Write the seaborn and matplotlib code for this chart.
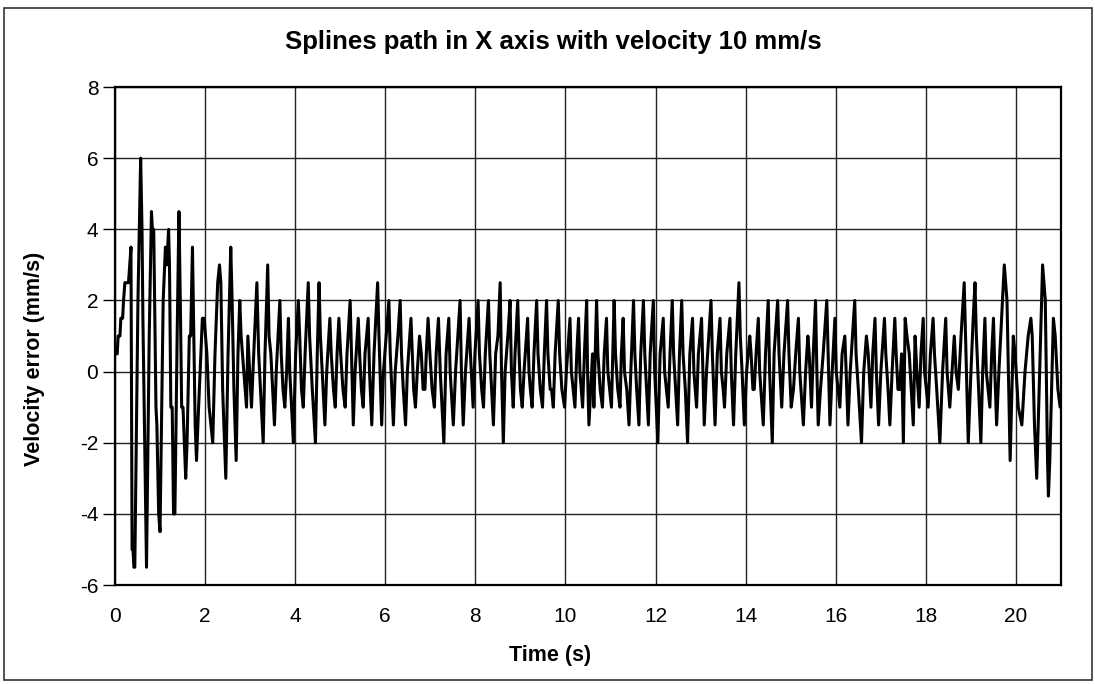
import numpy as np
import pandas as pd
import matplotlib
matplotlib.use("Agg")
import matplotlib.pyplot as plt
from matplotlib.patches import Rectangle
import seaborn as sns

title = "Splines path in X axis with velocity 10 mm/s"
x_label = "Time (s)"
y_label = "Velocity error (mm/s)"
x_ticks = [0, 2, 4, 6, 8, 10, 12, 14, 16, 18, 20]
y_ticks = [-6, -4, -2, 0, 2, 4, 6, 8]

time_s = [
    0.00, 0.05, 0.07, 0.11, 0.13, 0.17, 0.19, 0.22, 0.30, 0.355,
    0.38, 0.40, 0.42, 0.44, 0.51, 0.57, 0.60, 0.62, 0.70, 0.76,
    0.81, 0.83, 0.86, 0.91, 0.93, 0.97, 1.00, 1.07, 1.12, 1.15,
    1.19, 1.21, 1.24, 1.27, 1.30, 1.33, 1.38, 1.42, 1.45, 1.48,
    1.51, 1.57, 1.60, 1.65, 1.68, 1.72, 1.75, 1.78, 1.81, 1.84,
    1.89, 1.94, 1.98, 2.01, 2.04, 2.09, 2.13, 2.17, 2.22, 2.28,
    2.32, 2.35, 2.39, 2.46, 2.51, 2.57, 2.60, 2.64, 2.69, 2.73,
    2.77, 2.80, 2.83, 2.86, 2.92, 2.95, 2.99, 3.03, 3.08, 3.15,
    3.19, 3.23, 3.29, 3.33, 3.39, 3.42, 3.46, 3.54, 3.58, 3.66,
    3.69, 3.73, 3.77, 3.81, 3.85, 3.88, 3.96, 4.01, 4.07, 4.10,
    4.14, 4.18, 4.22, 4.29, 4.32, 4.38, 4.45, 4.49, 4.53, 4.56,
    4.60, 4.66, 4.70, 4.77, 4.80, 4.85, 4.89, 4.93, 4.97, 5.01,
    5.06, 5.11, 5.15, 5.22, 5.25, 5.29, 5.33, 5.40, 5.43, 5.47,
    5.51, 5.55, 5.62, 5.65, 5.70, 5.75, 5.83, 5.86, 5.92, 5.96,
    6.02, 6.08, 6.11, 6.18, 6.22, 6.28, 6.33, 6.36, 6.40, 6.45,
    6.49, 6.57, 6.60, 6.63, 6.67, 6.71, 6.76, 6.80, 6.84, 6.88,
    6.91, 6.95, 6.99, 7.04, 7.09, 7.13, 7.18, 7.22, 7.30, 7.35,
    7.41, 7.44, 7.51, 7.56, 7.61, 7.66, 7.69, 7.73, 7.78, 7.86,
    7.89, 7.95, 7.99, 8.06, 8.09, 8.14, 8.18, 8.22, 8.29, 8.32,
    8.36, 8.40, 8.45, 8.50, 8.55, 8.58, 8.62, 8.66, 8.72, 8.77,
    8.80, 8.84, 8.88, 8.94, 8.97, 9.00, 9.04, 9.08, 9.16, 9.19,
    9.22, 9.26, 9.30, 9.36, 9.39, 9.44, 9.49, 9.53, 9.58, 9.61,
    9.66, 9.69, 9.73, 9.77, 9.84, 9.87, 9.92, 9.98, 10.02, 10.10,
    10.13, 10.17, 10.21, 10.25, 10.29, 10.32, 10.38, 10.42, 10.47, 10.49,
    10.52, 10.56, 10.60, 10.63, 10.66, 10.69, 10.72, 10.77, 10.82, 10.86,
    10.91, 10.94, 10.98, 11.02, 11.05, 11.08, 11.11, 11.16, 11.21, 11.24,
    11.28, 11.31, 11.36, 11.41, 11.45, 11.51, 11.54, 11.58, 11.63, 11.67,
    11.73, 11.76, 11.80, 11.84, 11.88, 11.95, 11.98, 12.05, 12.10, 12.17,
    12.20, 12.24, 12.28, 12.32, 12.37, 12.40, 12.49, 12.53, 12.58, 12.61,
    12.66, 12.71, 12.76, 12.82, 12.85, 12.91, 12.95, 13.02, 13.05, 13.08,
    13.13, 13.18, 13.23, 13.26, 13.32, 13.37, 13.43, 13.46, 13.50, 13.53,
    13.58, 13.65, 13.68, 13.73, 13.78, 13.85, 13.88, 13.92, 13.97, 14.02,
    14.09, 14.12, 14.16, 14.19, 14.23, 14.28, 14.31, 14.39, 14.44, 14.50,
    14.53, 14.59, 14.63, 14.71, 14.74, 14.80, 14.85, 14.93, 14.96, 15.01,
    15.06, 15.11, 15.17, 15.20, 15.28, 15.33, 15.38, 15.41, 15.46, 15.50,
    15.55, 15.58, 15.61, 15.66, 15.72, 15.80, 15.83, 15.87, 15.92, 15.98,
    16.01, 16.05, 16.09, 16.14, 16.20, 16.23, 16.27, 16.32, 16.37, 16.42,
    16.45, 16.50, 16.57, 16.62, 16.68, 16.72, 16.78, 16.82, 16.87, 16.90,
    16.95, 17.00, 17.08, 17.11, 17.16, 17.20, 17.25, 17.31, 17.34, 17.38,
    17.42, 17.46, 17.50, 17.54, 17.58, 17.63, 17.72, 17.76, 17.80, 17.85,
    17.89, 17.94, 17.97, 18.01, 18.05, 18.10, 18.16, 18.19, 18.24, 18.31,
    18.37, 18.44, 18.47, 18.53, 18.58, 18.63, 18.67, 18.72, 18.78, 18.85,
    18.88, 18.94, 19.00, 19.05, 19.09, 19.12, 19.17, 19.22, 19.26, 19.31,
    19.34, 19.42, 19.46, 19.50, 19.53, 19.57, 19.62, 19.68, 19.74, 19.77,
    19.80, 19.87, 19.94, 19.98, 20.05, 20.13, 20.20, 20.27, 20.33, 20.36,
    20.41, 20.46, 20.59, 20.62, 20.65, 20.70, 20.72, 20.75, 20.83, 20.87,
    20.93, 20.98,
]

velocity_error = [
    0.5, 0.5, 1.0, 1.0, 1.5, 1.5, 2.0, 2.5, 2.5, 3.5,
    -5.0, -5.0, -5.5, -5.5, 2.0, 6.0, 4.0, 1.5, -5.5, 1.0,
    4.5, 4.0, 4.0, -1.0, -1.5, -4.0, -4.5, 2.0, 3.5, 3.0,
    4.0, 3.0, -1.0, -1.0, -4.0, -4.0, 1.0, 4.5, 2.0, -1.0,
    -1.0, -3.0, -2.0, 1.0, 1.0, 3.5, 1.0, -1.5, -2.5, -1.5,
    0.0, 1.5, 1.5, 1.0, 0.5, -1.0, -1.5, -2.0, 0.5, 2.5,
    3.0, 2.5, -0.5, -3.0, 0.5, 3.5, 2.0, -0.5, -2.5, 0.5,
    2.0, 1.0, 0.5, 0.0, -1.0, 1.0, 0.0, -1.0, 0.5, 2.5,
    0.5, -0.5, -2.0, 0.5, 3.0, 1.0, 0.5, -1.5, 0.0, 2.0,
    0.5, -0.5, -1.0, 0.0, 1.5, 0.0, -2.0, 0.5, 2.0, 1.0,
    -0.5, -1.0, 0.5, 2.5, 1.0, -0.5, -2.0, 0.5, 2.5, 1.0,
    0.0, -1.5, 0.0, 1.5, 0.5, -0.5, -1.0, 0.5, 1.5, 0.5,
    -0.5, -1.0, 0.5, 2.0, 0.5, -1.5, 0.0, 1.5, 0.5, -0.5,
    -1.0, 0.5, 1.5, 0.0, -1.5, 0.5, 2.5, 1.0, -1.5, 0.0,
    1.0, 2.0, 0.5, -1.5, 0.0, 1.0, 2.0, 0.5, -0.5, -1.5,
    0.0, 1.5, 0.5, -0.5, -1.0, 0.0, 1.0, 0.5, -0.5, -0.5,
    0.5, 1.5, 0.5, -0.5, -1.0, 0.5, 1.5, 0.0, -2.0, 0.5,
    1.5, 0.0, -1.5, 0.0, 1.0, 2.0, 0.0, -1.5, 0.0, 1.5,
    0.5, -1.0, 0.5, 2.0, 0.5, -0.5, -1.0, 0.5, 2.0, 0.5,
    -0.5, -1.5, 0.5, 1.0, 2.5, 0.0, -2.0, 0.0, 1.0, 2.0,
    0.0, -1.0, 0.5, 2.0, 0.5, -0.5, -1.0, 0.0, 1.5, 0.0,
    -0.5, -1.0, 0.5, 2.0, 0.5, -0.5, -1.0, 0.5, 2.0, 0.5,
    -0.5, -0.5, -1.0, 0.5, 2.0, 0.5, -0.5, -1.0, 0.0, 1.5,
    0.0, -0.5, -1.0, 0.5, 1.5, 0.0, -1.0, 0.5, 2.0, 0.0,
    -1.5, -0.5, 0.5, -1.0, 0.5, 2.0, 0.5, -0.5, -1.0, 0.5,
    1.5, 0.0, -0.5, -1.0, 0.5, 2.0, 0.5, -0.5, -1.0, 0.5,
    1.5, 0.0, -0.5, -1.5, 0.0, 2.0, 0.5, -0.5, -1.5, 0.5,
    2.0, 0.5, -0.5, -1.5, 0.5, 2.0, 0.0, -2.0, 0.5, 1.5,
    0.0, -0.5, -1.0, 0.5, 2.0, 0.5, -1.5, 0.5, 2.0, 0.5,
    -0.5, -2.0, 0.5, 1.5, 0.0, -1.0, 0.5, 1.5, 0.0, -1.5,
    0.0, 1.0, 2.0, 0.5, -1.5, 0.5, 1.5, 0.0, -0.5, -1.0,
    0.5, 1.5, 0.0, -1.5, 0.5, 2.5, 1.0, 0.0, -1.5, 0.0,
    1.0, 0.5, -0.5, -0.5, 0.5, 1.5, 0.0, -1.5, 0.5, 2.0,
    0.0, -2.0, 0.5, 2.0, 0.5, -1.0, 0.5, 2.0, 0.5, -1.0,
    -0.5, 0.5, 1.5, 0.0, -1.5, 0.0, 1.0, 0.5, -1.0, 0.5,
    2.0, 0.0, -1.5, -0.5, 0.5, 2.0, 0.5, -1.5, 0.0, 1.5,
    0.0, -0.5, -1.0, 0.5, 1.0, 0.0, -1.5, 0.0, 1.0, 2.0,
    0.5, -0.5, -2.0, 0.0, 1.0, 0.5, -1.0, 0.5, 1.5, 0.0,
    -1.5, 0.0, 1.5, 0.5, -0.5, -1.5, 0.0, 1.5, 0.5, -0.5,
    -0.5, 0.5, -2.0, 1.5, 1.0, 0.5, -1.5, 1.0, 0.0, -1.0,
    0.5, 1.5, 0.0, -0.5, -1.0, 0.5, 1.5, 0.5, -0.5, -2.0,
    0.0, 1.5, 0.0, -1.0, 0.0, 1.0, 0.0, -0.5, 1.0, 2.5,
    1.0, -2.0, 0.0, 1.5, 2.5, 1.0, -0.5, -2.0, 0.0, 1.5,
    0.0, -1.0, 0.5, 1.5, 0.0, -1.5, 0.0, 1.5, 3.0, 2.5,
    2.0, -2.5, 1.0, 0.5, -1.0, -1.5, 0.0, 1.0, 1.5, 1.0,
    -1.5, -3.0, 3.0, 2.5, 2.0, -2.5, -3.5, -2.5, 1.5, 1.0,
    -0.5, -1.0,
]

assert len(time_s) == len(velocity_error), (len(time_s), len(velocity_error))

df = pd.DataFrame({"t": time_s, "v": velocity_error})

sns.set_theme(style="white")
plt.rcParams["font.family"] = ["Liberation Sans", "DejaVu Sans"]

fig = plt.figure(figsize=(10.95, 6.84), dpi=100)
fig.patch.set_facecolor("white")
ax = fig.add_axes([0.105, 0.1447, 0.864, 0.728])
ax.set_facecolor("white")

sns.lineplot(data=df, x="t", y="v", ax=ax, color="black", linewidth=2.2,
             estimator=None, sort=False, zorder=3)

ax.set_xlim(0, 21)
ax.set_ylim(-6, 8)
ax.set_xticks(x_ticks)
ax.set_yticks(y_ticks)
ax.set_xticklabels([str(v) for v in x_ticks])
ax.set_yticklabels([str(v) for v in y_ticks])
ax.grid(True, color="#222222", linewidth=1.0, zorder=1)
ax.set_axisbelow(True)
for s in ax.spines.values():
    s.set_color("black")
    s.set_linewidth(1.6)

ax.tick_params(axis="y", direction="out", length=9, width=1.0, color="black",
               pad=3, labelsize=15, labelcolor="black", left=True)
ax.tick_params(axis="x", direction="out", length=0, pad=16,
               labelsize=15, labelcolor="black", bottom=True)

ax.set_xlabel(x_label, fontsize=15.5, fontweight="bold", color="black")
ax.set_ylabel(y_label, fontsize=15.5, fontweight="bold", color="black")
ax.xaxis.set_label_coords(0.46, -0.12)
ax.yaxis.set_label_coords(-0.074, 0.454)

fig.text(0.505, 0.938, title, ha="center", va="center", fontsize=18.5,
         fontweight="bold", color="black")

fig.patches.append(Rectangle((0.004, 0.006), 0.993, 0.982, transform=fig.transFigure,
                             fill=False, edgecolor="#333333", linewidth=1.2))

fig.savefig("out.png", dpi=100)
